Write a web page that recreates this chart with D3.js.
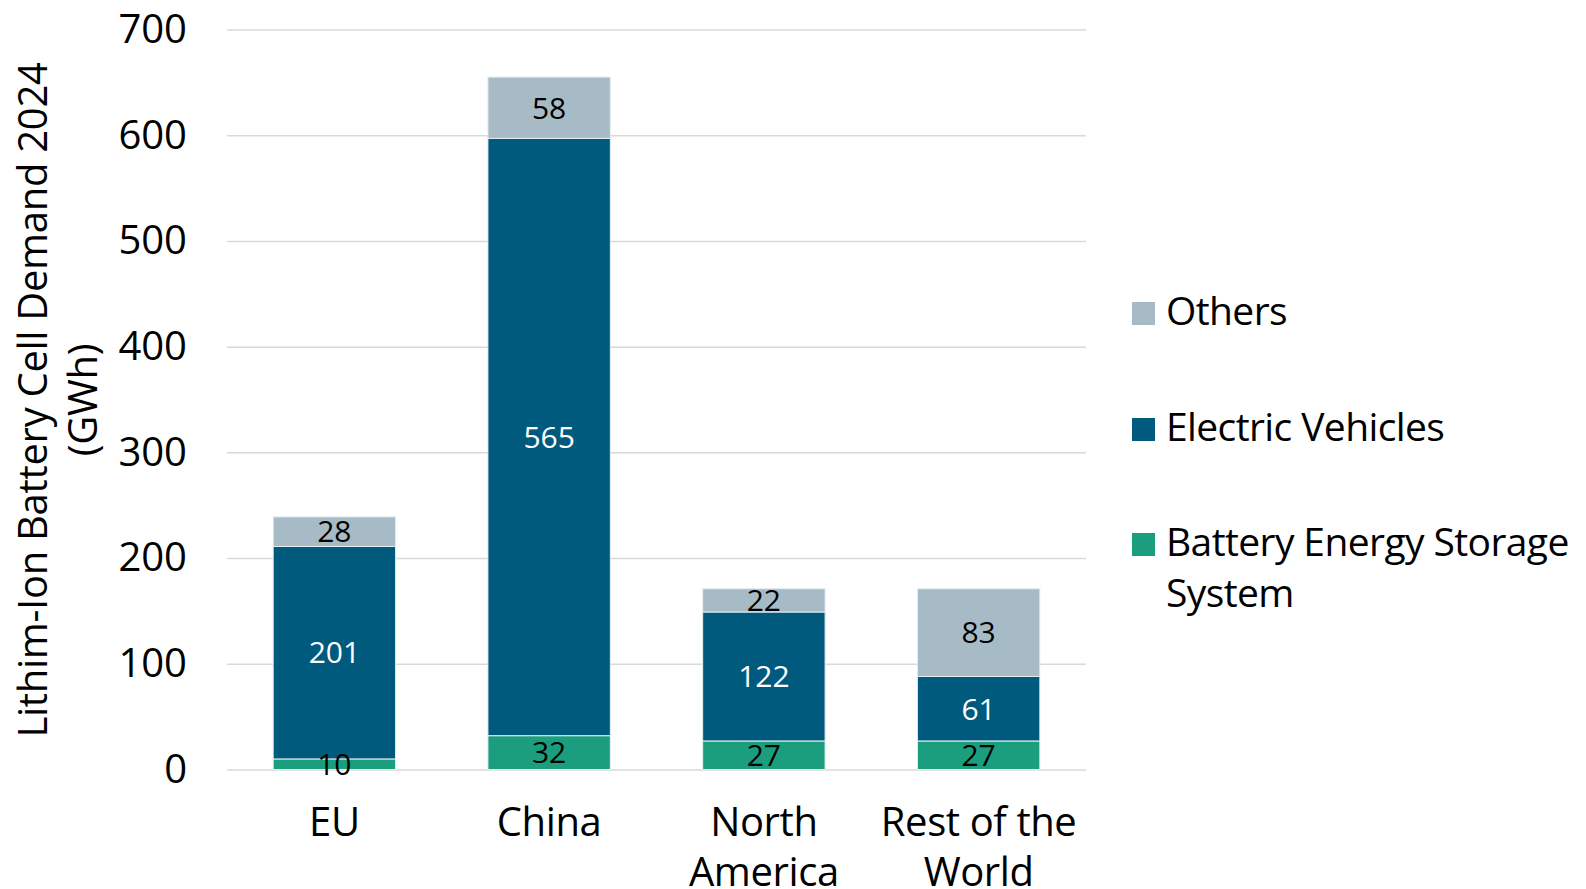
<!DOCTYPE html>
<html>
<head>
<meta charset="utf-8">
<script src="https://cdn.jsdelivr.net/npm/d3@7"></script>
<style>
  body { margin: 0; background: #fff; }
  text { font-family: "Open Sans", "Noto Sans", sans-serif; fill: #000; }
</style>
</head>
<body>
<div id="chart"></div>
<script>
// regions along the x axis, each label split into its lines
var regions = ['EU', 'China', 'North America', 'Rest of the World'];
var region_lines = [['EU'], ['China'], ['North', 'America'], ['Rest of the', 'World']];

// series values, stacked bottom to top
var bess   = [10, 32, 27, 27];
var ev     = [201, 565, 122, 61];
var others = [28, 58, 22, 83];

var series_names = ['Battery Energy Storage System', 'Electric Vehicles', 'Others'];
var y_ticks = [0, 100, 200, 300, 400, 500, 600, 700];

var width  = 1586;
var height = 889;
var colors = { bess: '#1a9e7e', ev: '#005a7d', others: '#a7bbc7' };

var rows = regions.map(function(r, i) {
	return { region: r, bess: bess[i], ev: ev[i], others: others[i] };
});
var keys = ['bess', 'ev', 'others'];
var stacked = d3.stack().keys(keys)(rows);

var x_scale = d3.scaleBand()
	.domain(regions)
	.range([227, 1086])
	.paddingInner(0.43)
	.paddingOuter(0.215);
var y_scale = d3.scaleLinear()
	.domain([0, 700])
	.range([769.5, 29.5]);

var svg = d3.select('#chart')
	.append('svg')
	.attr('width', width)
	.attr('height', height);

// y axis with gridlines
var y_axis = d3.axisLeft(y_scale)
	.tickValues(y_ticks)
	.tickSize(-(1086 - 227))
	.tickPadding(40);
var gy = svg.append('g')
	.attr('transform', 'translate(227,0)')
	.call(y_axis);
gy.select('.domain').remove();
gy.selectAll('.tick line').attr('stroke', '#d9d9d9').attr('stroke-width', 1.5);
gy.selectAll('.tick text')
	.attr('font-size', 40)
	.attr('fill', '#000')
	.style('font-family', '"Open Sans", sans-serif');

// bars
var layers = svg.append('g').selectAll('g')
	.data(stacked)
	.enter().append('g')
	.attr('fill', function(d) { return colors[d.key]; });

layers.selectAll('rect')
	.data(function(d) { return d; })
	.enter().append('rect')
	.attr('x', function(d) { return x_scale(d.data.region); })
	.attr('width', x_scale.bandwidth())
	.attr('y', function(d) { return y_scale(d[1]); })
	.attr('height', function(d) { return y_scale(d[0]) - y_scale(d[1]); })
	.attr('stroke', '#e6edf0')
	.attr('stroke-width', 1);

// value labels, drawn over all bars
var label_data = [];
stacked.forEach(function(s) {
	s.forEach(function(p) {
		label_data.push({ key: s.key, region: p.data.region, value: p.data[s.key], y0: p[0], y1: p[1] });
	});
});
svg.append('g').selectAll('text')
	.data(label_data)
	.enter().append('text')
	.attr('x', function(d) { return x_scale(d.region) + x_scale.bandwidth() / 2; })
	.attr('y', function(d) { return (y_scale(d.y0) + y_scale(d.y1)) / 2; })
	.attr('dy', '0.36em')
	.attr('text-anchor', 'middle')
	.attr('font-size', 30)
	.style('fill', function(d) { return d.key === 'ev' ? '#fff' : '#000'; })
	.text(function(d) { return d.value; });

// category labels
var cats = svg.append('g').selectAll('text')
	.data(regions)
	.enter().append('text')
	.attr('text-anchor', 'middle')
	.attr('font-size', 40)
	.attr('letter-spacing', -0.4)
	.attr('y', 836);
cats.selectAll('tspan')
	.data(function(d, i) {
		return region_lines[i].map(function(l) { return { line: l, region: d }; });
	})
	.enter().append('tspan')
	.attr('x', function(d) { return x_scale(d.region) + x_scale.bandwidth() / 2; })
	.attr('dy', function(d, j) { return j === 0 ? 0 : 50; })
	.text(function(d) { return d.line; });

// y axis title
var title = svg.append('text')
	.attr('transform', 'translate(47,400) rotate(-90)')
	.attr('text-anchor', 'middle')
	.attr('font-size', 40)
	.attr('letter-spacing', -0.3);
title.append('tspan').attr('x', 0).attr('dy', 0).text('Lithim-Ion Battery Cell Demand 2024');
title.append('tspan').attr('x', 0).attr('dy', 50).text('(GWh)');

// legend
var legend_items = [
	{ key: 'others', lines: [series_names[2]], y: 325 },
	{ key: 'ev', lines: [series_names[1]], y: 441 },
	{ key: 'bess', lines: ['Battery Energy Storage', 'System'], y: 556 }
];
var lg = svg.append('g').selectAll('g')
	.data(legend_items)
	.enter().append('g');
lg.append('rect')
	.attr('x', 1132)
	.attr('y', function(d) { return d.y - 23; })
	.attr('width', 23)
	.attr('height', 23)
	.attr('fill', function(d) { return colors[d.key]; });
var lt = lg.append('text')
	.attr('y', function(d) { return d.y; })
	.attr('font-size', 39)
	.attr('letter-spacing', -0.6);
lt.selectAll('tspan')
	.data(function(d) { return d.lines; })
	.enter().append('tspan')
	.attr('x', 1166)
	.attr('dy', function(d, j) { return j === 0 ? 0 : 51; })
	.text(function(d) { return d; });
</script>
</body>
</html>
